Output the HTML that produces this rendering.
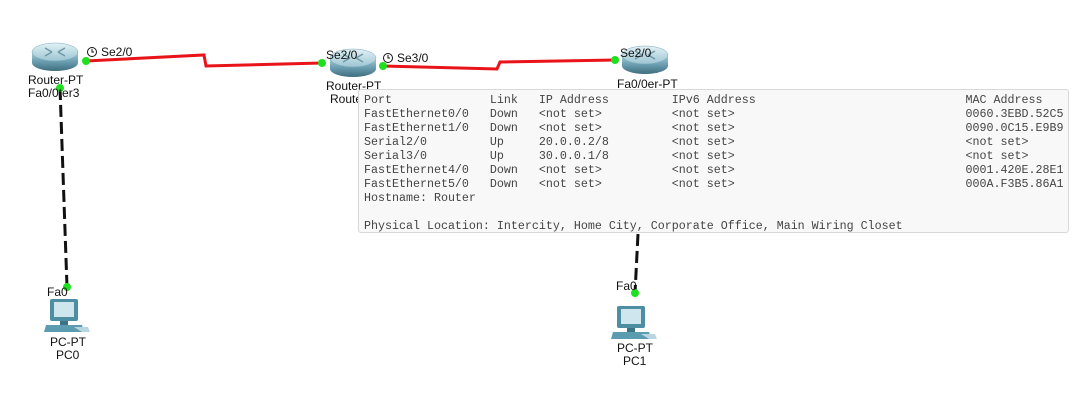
<!DOCTYPE html>
<html><head><meta charset="utf-8"><style>
html,body{margin:0;padding:0;background:#fff;width:1078px;height:407px;overflow:hidden;position:relative;font-family:"Liberation Sans",sans-serif}
svg{position:absolute;left:0;top:0}
.lbl{font-family:"Liberation Sans",sans-serif;font-size:12px;fill:#111}
#tip{position:absolute;left:358px;top:89px;width:711px;height:144px;background:#f8f8f8;border:1px solid #d8d8d8;border-radius:3px;box-sizing:border-box}
#tip pre{margin:0;position:absolute;left:5px;top:3px;font-family:"Liberation Mono",monospace;font-size:11.67px;line-height:14px;color:#444}
</style></head><body>
<svg width="1078" height="407" viewBox="0 0 1078 407">
<defs>
<linearGradient id="rg" x1="0" y1="0" x2="0" y2="1">
<stop offset="0" stop-color="#a9d0dc"/><stop offset="0.5" stop-color="#6a9eb0"/><stop offset="1" stop-color="#3f6f80"/>
</linearGradient>
<linearGradient id="rt" x1="0" y1="0" x2="0" y2="1">
<stop offset="0" stop-color="#e2f1f6"/><stop offset="1" stop-color="#9cc5d2"/>
</linearGradient>
<g id="router">
<path d="M0 9 L0 20 A23 8 0 0 0 46 20 L46 9 Z" fill="url(#rg)"/>
<ellipse cx="23" cy="9" rx="23" ry="9" fill="url(#rt)" stroke="#7aa8b8" stroke-width="0.5"/>
<path d="M13 5 L20 9 M33 5 L26 9 M13 13 L20 9 M33 13 L26 9" stroke="#6f98a6" stroke-width="1.5"/>
</g>
<g id="pc">
<rect x="6" y="0" width="28" height="22" rx="2" fill="#4d8ea3"/>
<rect x="10" y="3" width="20" height="15" fill="#cfe6ee"/>
<rect x="16" y="22" width="8" height="4" fill="#3c7387"/>
<path d="M2 26 L38 26 L40 33 L0 33 Z" fill="#5c9cb0"/>
<path d="M30 28 L44 28 L46 33 L38 33 Z" fill="#b9d6e0"/>
</g>
</defs>
<polyline points="86,61 204,55 206,66 322,63" fill="none" stroke="#e8141a" stroke-width="3"/>
<polyline points="383,66 497,69 500,62 615,60" fill="none" stroke="#e8141a" stroke-width="3"/>
<line x1="60" y1="88" x2="67" y2="287" stroke="#111" stroke-width="3" stroke-dasharray="12,5"/>
<line x1="638" y1="234" x2="635" y2="293" stroke="#111" stroke-width="3" stroke-dasharray="12,5"/>
<use href="#router" x="32" y="43"/>
<use href="#router" x="330" y="49"/>
<use href="#router" x="622" y="46"/>
<g fill="#1ee01e">
<circle cx="86" cy="61" r="4"/><circle cx="322" cy="63" r="4"/><circle cx="383" cy="66" r="4"/><circle cx="615" cy="60" r="4"/>
<circle cx="60" cy="88" r="4"/><circle cx="67" cy="287" r="4"/><circle cx="635" cy="293" r="4"/>
</g>
<circle cx="92" cy="52" r="4.5" fill="#fff" stroke="#111"/><path d="M92 49 V52 H94" stroke="#111" fill="none"/>
<circle cx="388" cy="58" r="4.5" fill="#fff" stroke="#111"/><path d="M388 55 V58 H390" stroke="#111" fill="none"/>
<text class="lbl" x="101" y="56">Se2/0</text>
<text class="lbl" x="397" y="62">Se3/0</text>
<text class="lbl" x="326" y="59">Se2/0</text>
<text class="lbl" x="620" y="57">Se2/0</text>
<text class="lbl" x="28" y="84">Router-PT</text>
<text class="lbl" x="28" y="97">Fa0/0ter3</text>
<text class="lbl" x="326" y="90">Router-PT</text>
<text class="lbl" x="330" y="103">Route</text>
<text class="lbl" x="617" y="88">Fa0/0er-PT</text>
<use href="#pc" x="44" y="299"/>
<use href="#pc" x="611" y="306"/>
<text class="lbl" x="47" y="296">Fa0</text>
<text class="lbl" x="50" y="346">PC-PT</text>
<text class="lbl" x="56" y="359">PC0</text>
<text class="lbl" x="616" y="290">Fa0</text>
<text class="lbl" x="617" y="352">PC-PT</text>
<text class="lbl" x="623" y="365">PC1</text>
</svg>
<div id="tip"><pre>Port              Link   IP Address         IPv6 Address                              MAC Address
FastEthernet0/0   Down   &lt;not set&gt;          &lt;not set&gt;                                 0060.3EBD.52C5
FastEthernet1/0   Down   &lt;not set&gt;          &lt;not set&gt;                                 0090.0C15.E9B9
Serial2/0         Up     20.0.0.2/8         &lt;not set&gt;                                 &lt;not set&gt;
Serial3/0         Up     30.0.0.1/8         &lt;not set&gt;                                 &lt;not set&gt;
FastEthernet4/0   Down   &lt;not set&gt;          &lt;not set&gt;                                 0001.420E.28E1
FastEthernet5/0   Down   &lt;not set&gt;          &lt;not set&gt;                                 000A.F3B5.86A1
Hostname: Router

Physical Location: Intercity, Home City, Corporate Office, Main Wiring Closet</pre></div>
</body></html>
